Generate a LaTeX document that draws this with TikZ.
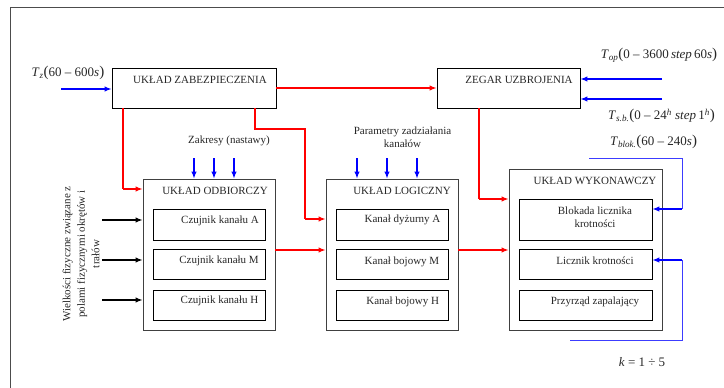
\documentclass[tikz,border=0pt]{standalone}
\usepackage{fontspec}
\setmainfont{Liberation Serif}
\usetikzlibrary{arrows.meta}
\definecolor{lblue}{RGB}{60,60,255}
\newcommand\lpar{{\fontsize{15}{15}\selectfont(}}
\newcommand\rpar{{\fontsize{15}{15}\selectfont)}}
\begin{document}
\begin{tikzpicture}[x=1pt,y=-1pt,
  outerbox/.style={draw=black!75, line width=0.9pt, inner sep=0pt, minimum width=#1},
  innerbox/.style={draw=black, line width=0.8pt, inner sep=0pt, minimum width=#1},
  txt/.style={font=\fontsize{11}{13}\selectfont, inner sep=0pt, text=black!85, align=center},
  mtxt/.style={font=\fontsize{13}{15}\selectfont, inner sep=0pt, text=black!85},
  tip/.style={-{Latex[length=7pt,width=5.5pt]}},
  rarr/.style={draw=red, line width=1.2pt, tip},
  rthin/.style={draw=red, line width=1.1pt},
  barr/.style={draw=blue, line width=1.2pt, tip},
  bthin/.style={draw=lblue, line width=0.9pt},
  karr/.style={draw=black, line width=1.2pt, tip}]
\useasboundingbox (0,0) rectangle (724,388);
% frame
\draw[black!70, line width=1pt] (10,388) -- (10,7) -- (724,7);

% top boxes
\node[outerbox=164pt, minimum height=40pt, draw=black] (zab) at (194,88) {};
\node[txt] (zabt) at (200,80) {UKŁAD ZABEZPIECZENIA};
\node[outerbox=143pt, minimum height=40pt, draw=black] (zeg) at (508.5,88) {};
\node[txt] (zegt) at (519,80) {ZEGAR UZBROJENIA};

% odbiorczy
\node[outerbox=132pt, minimum height=151pt] (odb) at (209,254.5) {};
\node[txt] (odbt) at (215,191) {UKŁAD ODBIORCZY};
\node[innerbox=112pt, minimum height=31pt] (odbA) at (209,224.5) {};
\node[innerbox=112pt, minimum height=30pt] (odbM) at (209,264) {};
\node[innerbox=112pt, minimum height=30pt] (odbH) at (209,305) {};
\node[txt] (odbAt) at (220,221) {Czujnik kanału A};
\node[txt] (odbMt) at (219,261) {Czujnik kanału M};
\node[txt] (odbHt) at (219.5,301) {Czujnik kanału H};

% logiczny
\node[outerbox=132pt, minimum height=151pt] (log) at (392,254.5) {};
\node[txt] (logt) at (402,191) {UKŁAD LOGICZNY};
\node[innerbox=112pt, minimum height=31pt] (logA) at (392,224.5) {};
\node[innerbox=112pt, minimum height=30pt] (logM) at (392,264) {};
\node[innerbox=112pt, minimum height=30pt] (logH) at (392,305) {};
\node[txt] (logAt) at (402.5,220) {Kanał dyżurny A};
\node[txt] (logMt) at (402,262) {Kanał bojowy M};
\node[txt] (logHt) at (402.7,302) {Kanał bojowy H};

% wykonawczy
\node[outerbox=153pt, minimum height=161pt] (wyk) at (585.5,249.5) {};
\node[txt] (wykt) at (595,181) {UKŁAD WYKONAWCZY};
\node[innerbox=133pt, minimum height=41pt] (wykB) at (585.5,219.5) {};
\node[innerbox=133pt, minimum height=30pt] (wykL) at (585.5,264) {};
\node[innerbox=133pt, minimum height=30pt] (wykP) at (585.5,305) {};
\node[txt] (wykBt) at (595,217) {Blokada licznika\\krotności};
\node[txt] (wykLt) at (595,261) {Licznik krotności};
\node[txt] (wykPt) at (595,302) {Przyrząd zapalający};

% labels
\node[txt] (zakr) at (229,141) {Zakresy (nastawy)};
\node[txt] (param) at (402.5,137) {Parametry zadziałania\\kanałów};
\node[txt, rotate=90, font=\fontsize{11}{14.5}\selectfont] (wielk) at (81,254)
  {Wielkości fizyczne związane z\\polami fizycznymi okrętów i\\trałów};
\node[mtxt] (tz) at (68,73) {\textit{T}\textsubscript{\textit{z}}\lpar60 – 600\textit{s}\rpar};
\node[mtxt] (top) at (659,55) {\textit{T}\textsubscript{\textit{op}}\lpar0 – 3600\,\textit{step}\,60\textit{s}\rpar};
\node[mtxt] (tsb) at (661.5,116) {\textit{T}\textsubscript{\textit{s.b.}}\lpar0 – 24\textsuperscript{\textit{h}} \textit{step}\,1\textsuperscript{\textit{h}}\rpar};
\node[mtxt] (tbl) at (653.5,142) {\textit{T}\textsubscript{\textit{blok.}}\lpar60 – 240\textit{s}\rpar};
\node[mtxt] (kk) at (642,362) {\textit{k} = 1 ÷ 5};

% connectors
\coordinate (tzs) at (61,89);
\draw[barr] (tzs) -- (tzs -| zab.west);
\draw[rarr] (zab.east) -- (zeg.west);

\coordinate (c1) at (123,189);
\draw[rthin] (c1 |- zab.south) -- (c1);
\draw[rarr] (c1) -- (c1 -| odb.west);

\coordinate (c2a) at (255,129);
\coordinate (c2b) at (305,219);
\draw[rthin] (c2a |- zab.south) -- (c2a) -| (c2b);
\draw[rarr] (c2b) -- (c2b -| log.west);

\coordinate (c3) at (479,199);
\draw[rthin] (c3 |- zeg.south) -- (c3);
\draw[rarr] (c3) -- (c3 -| wyk.west);

\coordinate (c4) at (0,250);
\draw[rarr] (odb.east |- c4) -- (log.west |- c4);
\draw[rarr] (log.east |- c4) -- (wyk.west |- c4);

\foreach \x/\n in {194/1,214/2,234/3}{
  \coordinate (zk\n) at (\x,158);
  \draw[barr] (zk\n) -- (zk\n |- odb.north);
}
\foreach \x/\n in {357/1,387/2,417/3}{
  \coordinate (pk\n) at (\x,158);
  \draw[barr] (pk\n) -- (pk\n |- log.north);
}

\coordinate (op) at (662,79);
\coordinate (sb) at (662,99);
\draw[barr] (op) -- (op -| zeg.east);
\draw[barr] (sb) -- (sb -| zeg.east);

\coordinate (bl0) at (589,158);
\coordinate (bl1) at (682,209);
\draw[bthin] (bl0) -| (bl1);
\draw[barr] (bl1) -- (bl1 -| wykB.east);

\coordinate (k0) at (570,340);
\coordinate (k1) at (682,260);
\draw[bthin] (k0) -| (k1);
\draw[barr] (k1) -- (k1 -| wykL.east);

\foreach \y/\n in {220/1,260/2,300/3}{
  \coordinate (in\n) at (102,\y);
  \draw[karr] (in\n) -- (in\n -| odb.west);
}
\end{tikzpicture}
\end{document}
